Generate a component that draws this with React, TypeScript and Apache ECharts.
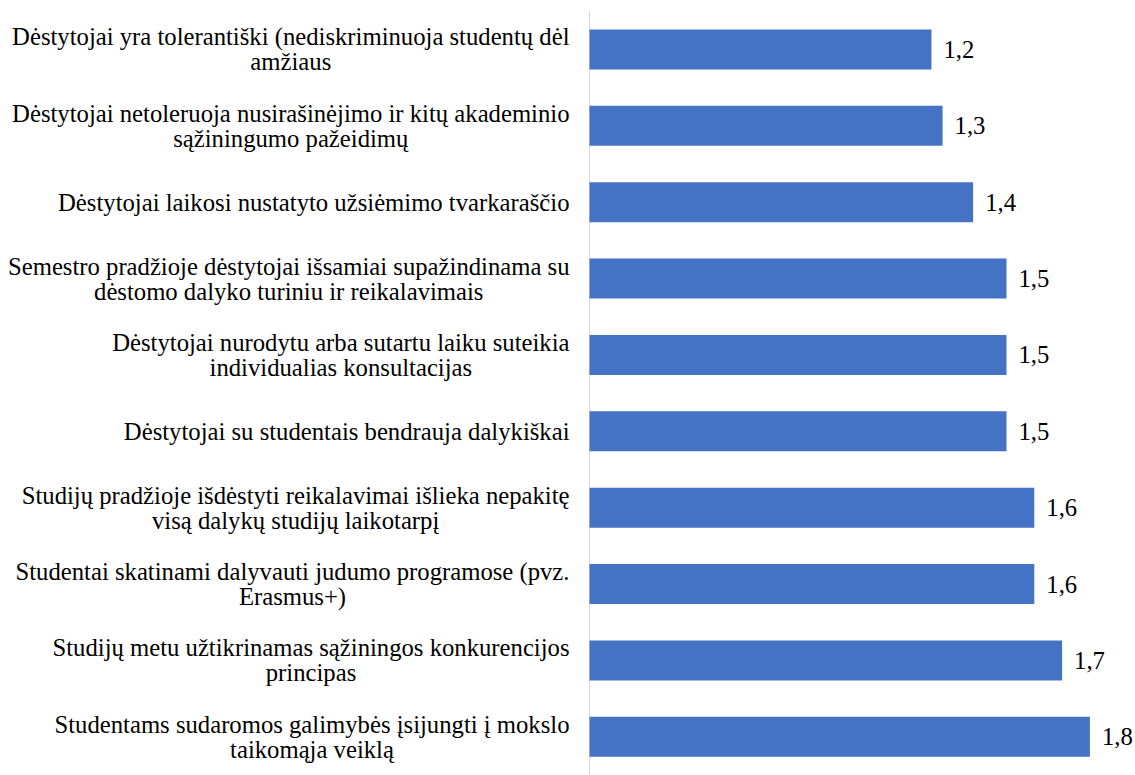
import React, { useEffect, useRef } from "react";
import * as echarts from "echarts";

const categories: string[] = [
  "Dėstytojai yra tolerantiški (nediskriminuoja studentų dėl\namžiaus",
  "Dėstytojai netoleruoja nusirašinėjimo ir kitų akademinio\nsąžiningumo pažeidimų",
  "Dėstytojai laikosi nustatyto užsiėmimo tvarkaraščio",
  "Semestro pradžioje dėstytojai išsamiai supažindinama su\ndėstomo dalyko turiniu ir reikalavimais",
  "Dėstytojai nurodytu arba sutartu laiku suteikia\nindividualias konsultacijas",
  "Dėstytojai su studentais bendrauja dalykiškai",
  "Studijų pradžioje išdėstyti reikalavimai išlieka nepakitę\nvisą dalykų studijų laikotarpį",
  "Studentai skatinami dalyvauti judumo programose (pvz.\nErasmus+)",
  "Studijų metu užtikrinamas sąžiningos konkurencijos\nprincipas",
  "Studentams sudaromos galimybės įsijungti į mokslo\ntaikomąja veiklą",
];

const values: number[] = [1.23, 1.27, 1.38, 1.5, 1.5, 1.5, 1.6, 1.6, 1.7, 1.8];

const FONT = "Times New Roman, Liberation Serif, serif";
const FS = 24.7;

export default function App() {
  const ref = useRef<HTMLDivElement>(null);
  useEffect(() => {
    if (!ref.current) return;
    const chart = echarts.init(ref.current, undefined, { renderer: "svg" });
    chart.setOption({
      animation: false,
      backgroundColor: "#ffffff",
      textStyle: { fontFamily: FONT },
      grid: { left: 589.5, top: 11.3, width: 528.2, height: 773.4, containLabel: false },
      xAxis: {
        type: "value",
        min: 0,
        max: 1.9,
        show: false,
      },
      yAxis: {
        type: "category",
        data: categories,
        inverse: true,
        axisLine: { show: true, lineStyle: { color: "#d9d9d9", width: 1 } },
        axisTick: { show: false },
        splitLine: { show: false },
        axisLabel: {
          margin: 20,
          align: "right",
          fontFamily: FONT,
          fontSize: FS,
          color: "#000000",
          lineHeight: 25,
          formatter: (v: string) => v.split("\n").map((l) => `{c|${l}}`).join("\n"),
          rich: {
            c: { align: "center", fontFamily: FONT, fontSize: FS, color: "#000000", lineHeight: 25 },
          },
        },
      },
      series: [
        {
          type: "bar",
          data: values,
          barWidth: 40,
          itemStyle: { color: "#4472C4" },
          label: {
            show: true,
            position: "right",
            distance: 12,
            fontFamily: FONT,
            fontSize: FS,
            color: "#000000",
            formatter: (p: any) => Number(p.value).toFixed(1).replace(".", ","),
          },
        },
      ],
    });
    return () => chart.dispose();
  }, []);
  return (
    <div
      ref={ref}
      style={{ position: "absolute", left: 0, top: 0, width: 1135, height: 775 }}
    />
  );
}
